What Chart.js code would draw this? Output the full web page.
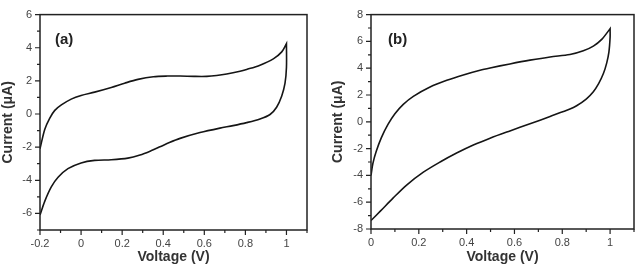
<!DOCTYPE html>
<html>
<head>
<meta charset="utf-8">
<script src="https://cdn.jsdelivr.net/npm/chart.js@4.4.0/dist/chart.umd.min.js"></script>
<style>
  html, body { margin: 0; padding: 0; background: #fff; }
  #wrap { position: relative; width: 637px; height: 268px; }
  canvas { position: absolute; top: 0; }
  #ca { left: 0; }
  #cb { left: 318px; }
</style>
</head>
<body>
<div id="wrap">
  <canvas id="ca" width="318" height="268"></canvas>
  <canvas id="cb" width="319" height="268"></canvas>
</div>
<script>
// panel (a): forward scan then reverse scan
var voltageAFwd = [-0.2, -0.177, -0.153, -0.128, -0.096, -0.048, 0.0, 0.066, 0.147, 0.212, 0.277, 0.352, 0.42, 0.482, 0.55, 0.612, 0.66, 0.709, 0.774, 0.806, 0.871, 0.936, 0.977, 1.0];
var currentAFwd = [-2.1, -0.93, -0.26, 0.22, 0.55, 0.9, 1.12, 1.32, 1.6, 1.86, 2.09, 2.25, 2.29, 2.29, 2.27, 2.27, 2.32, 2.41, 2.58, 2.69, 2.95, 3.33, 3.75, 4.25];
var voltageARev = [1.0, 1.0, 0.993, 0.977, 0.952, 0.92, 0.871, 0.806, 0.74, 0.676, 0.579, 0.482, 0.43, 0.384, 0.34, 0.287, 0.228, 0.147, 0.066, 0.0, -0.064, -0.112, -0.145, -0.177, -0.2];
var currentARev = [4.25, 2.82, 1.86, 1.09, 0.41, -0.03, -0.3, -0.52, -0.7, -0.85, -1.12, -1.47, -1.72, -1.98, -2.22, -2.47, -2.66, -2.76, -2.8, -2.95, -3.3, -3.82, -4.4, -5.27, -6.1];

// panel (b)
var voltageBFwd = [0, 0.008, 0.022, 0.043, 0.071, 0.1, 0.135, 0.177, 0.247, 0.317, 0.386, 0.456, 0.498, 0.581, 0.665, 0.749, 0.832, 0.888, 0.93, 0.965, 1.0];
var currentBFwd = [-4.0, -3.1, -2.2, -1.2, -0.2, 0.6, 1.3, 1.9, 2.6, 3.1, 3.5, 3.85, 4.02, 4.32, 4.6, 4.84, 5.02, 5.3, 5.65, 6.15, 6.95];
var voltageBRev = [1.0, 1.0, 0.995, 0.986, 0.972, 0.952, 0.93, 0.9, 0.86, 0.832, 0.749, 0.665, 0.581, 0.498, 0.428, 0.358, 0.289, 0.219, 0.149, 0.093, 0.04, 0];
var currentBRev = [6.95, 6.3, 5.2, 4.4, 3.6, 2.85, 2.25, 1.7, 1.2, 0.95, 0.4, -0.15, -0.68, -1.22, -1.73, -2.33, -3.0, -3.76, -4.72, -5.68, -6.65, -7.37];

// tick labels
var xTicksA = [-0.2, 0, 0.2, 0.4, 0.6, 0.8, 1];
var xMinorA = [-0.1, 0.1, 0.3, 0.5, 0.7, 0.9, 1.1];
var yTicksA = [-6, -4, -2, 0, 2, 4, 6];
var yMinorA = [-7, -5, -3, -1, 1, 3, 5];
var xTicksB = [0, 0.2, 0.4, 0.6, 0.8, 1];
var xMinorB = [0.1, 0.3, 0.5, 0.7, 0.9, 1.1];
var yTicksB = [-8, -6, -4, -2, 0, 2, 4, 6, 8];
var yMinorB = [-7, -5, -3, -1, 1, 3, 5, 7];

function toPoints(vs, is) {
    return vs.map(function(v, k) { return {x: v, y: is[k]}; });
}

//draws box frame, outward major/minor ticks and the panel letter
var framePlugin = {
    id: "frame",
    afterDraw: function(chart, args, opts) {
        var ctx = chart.ctx, a = chart.chartArea;
        var x = chart.scales.x, y = chart.scales.y;
        ctx.save();
        ctx.strokeStyle = "#222";
        ctx.lineWidth = 1.2;
        ctx.beginPath();
        opts.xMajor.forEach(function(v) { var p = x.getPixelForValue(v); ctx.moveTo(p, a.bottom); ctx.lineTo(p, a.bottom + 5); });
        opts.xMinor.forEach(function(v) { var p = x.getPixelForValue(v); ctx.moveTo(p, a.bottom); ctx.lineTo(p, a.bottom + 3); });
        opts.yMajor.forEach(function(v) { var p = y.getPixelForValue(v); ctx.moveTo(a.left, p); ctx.lineTo(a.left - 5, p); });
        opts.yMinor.forEach(function(v) { var p = y.getPixelForValue(v); ctx.moveTo(a.left, p); ctx.lineTo(a.left - 3, p); });
        ctx.stroke();
        ctx.lineWidth = 1.5;
        ctx.strokeRect(a.left, a.top, a.right - a.left, a.bottom - a.top);
        ctx.fillStyle = "#222";
        ctx.font = "bold 15px 'Liberation Sans', Arial, sans-serif";
        ctx.textBaseline = "middle";
        ctx.fillText(opts.label, a.left + opts.labelDx, a.top + 25);
        ctx.restore();
    }
};

function makeChart(id, fwd, rev, cfg) {
    var canvas = document.getElementById(id);
    return new Chart(canvas.getContext("2d"), {
        type: "scatter",
        data: {
            datasets: [{
                data: fwd.concat(rev),
                showLine: true,
                borderColor: "#151515",
                borderWidth: 1.6,
                pointRadius: 0,
                tension: 0.3,
                fill: false
            }]
        },
        options: {
            responsive: false,
            animation: false,
            layout: { padding: { left: cfg.padLeft, right: cfg.padRight, top: cfg.padTop, bottom: 0 } },
            plugins: {
                legend: { display: false },
                tooltip: { enabled: false },
                frame: { xMajor: cfg.xTicks, xMinor: cfg.xMinor, yMajor: cfg.yTicks, yMinor: cfg.yMinor, label: cfg.label, labelDx: cfg.labelDx }
            },
            scales: {
                x: {
                    type: "linear",
                    min: cfg.xMin, max: cfg.xMax,
                    grid: { display: false, drawTicks: false },
                    border: { display: false },
                    afterBuildTicks: function(s) { s.ticks = cfg.xTicks.map(function(v) { return {value: v}; }); },
                    afterFit: function(s) { s.height = cfg.xHeight; },
                    ticks: {
                        padding: 7,
                        color: "#444",
                        font: { family: "'Liberation Sans', Arial, sans-serif", size: 11 },
                        callback: function(v) { return String(v); }
                    },
                    title: {
                        display: true, text: "Voltage (V)", color: "#333",
                        font: { family: "'Liberation Sans', Arial, sans-serif", size: 14, weight: "bold" },
                        padding: { top: 0, bottom: 2 }
                    }
                },
                y: {
                    type: "linear",
                    min: cfg.yMin, max: cfg.yMax,
                    grid: { display: false, drawTicks: false },
                    border: { display: false },
                    afterBuildTicks: function(s) { s.ticks = cfg.yTicks.map(function(v) { return {value: v}; }); },
                    afterFit: function(s) { s.width = cfg.yWidth; },
                    ticks: {
                        padding: 8,
                        color: "#444",
                        font: { family: "'Liberation Sans', Arial, sans-serif", size: 11 },
                        callback: function(v) { return String(v); }
                    },
                    title: {
                        display: true, text: "Current (\u03bcA)", color: "#333",
                        font: { family: "'Liberation Sans', Arial, sans-serif", size: 14, weight: "bold" },
                        padding: { top: 0, bottom: 0 }
                    }
                }
            }
        },
        plugins: [framePlugin]
    });
}

makeChart("ca", toPoints(voltageAFwd, currentAFwd), toPoints(voltageARev, currentARev), {
    xMin: -0.2, xMax: 1.1, yMin: -7, yMax: 6,
    xTicks: xTicksA, xMinor: xMinorA, yTicks: yTicksA, yMinor: yMinorA,
    padLeft: 0, padRight: 11, padTop: 5, yWidth: 40, xHeight: 38,
    label: "(a)", labelDx: 15
});

makeChart("cb", toPoints(voltageBFwd, currentBFwd), toPoints(voltageBRev, currentBRev), {
    xMin: 0, xMax: 1.1, yMin: -8, yMax: 8,
    xTicks: xTicksB, xMinor: xMinorB, yTicks: yTicksB, yMinor: yMinorB,
    padLeft: 12, padRight: 3, padTop: 6, yWidth: 41, xHeight: 39,
    label: "(b)", labelDx: 17
});
</script>
</body>
</html>
